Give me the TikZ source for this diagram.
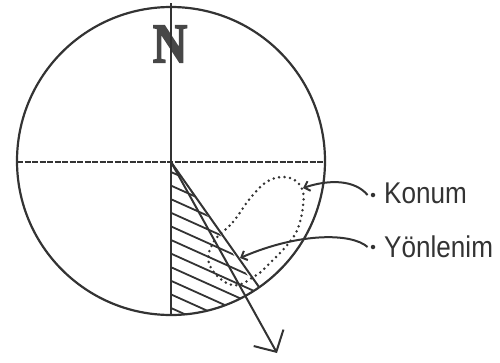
\documentclass[tikz,border=0pt]{standalone}
\usepackage{fontspec}
\setmainfont{Liberation Sans}
\newfontfamily\nfont[FakeBold=3]{Liberation Serif Bold}
\usetikzlibrary{arrows.meta}
\definecolor{ink}{HTML}{333333}
\tikzset{
  pen/.style={draw=ink, line width=2pt},
  lbl/.style={anchor=base west, inner sep=0pt, text=ink, font=\fontsize{30}{30}\selectfont},
  spot/.style={circle, fill=ink, inner sep=0pt, minimum size=4.5pt},
  pointer/.style={pen, -{Straight Barb[length=5pt,width=10pt]}}
}
\begin{document}
\begin{tikzpicture}[x=1pt, y=-1pt]
  \useasboundingbox (0,0) rectangle (500,362);
  \coordinate (o) at (171,162);
  \coordinate (hb) at (259,287);

  % north mark
  \node (north) at (170,44) {\scalebox{0.85}[1]{\nfont\fontsize{56}{56}\selectfont\color{ink!90}N}};

  % circle and cross
  \draw[pen, line width=2.2pt] (171,161) circle (154pt);
  \draw[pen] (171,3) -- (171,316);
  \draw[pen, dash pattern=on 6pt off 1.5pt] (17,162) -- (325,162);

  % hatched sector
  \begin{scope}
    \clip (o) -- (325,390) -- (171,390) -- cycle;
    \clip (171,161) circle (154pt);
    \foreach \k in {0,...,11}
      \draw[pen, line width=1.8pt] (171,172+13.6*\k) -- ++(160,72);
  \end{scope}
  \draw[pen] (o) -- (hb);

  % direction arrow
  \draw[pen, -{Straight Barb[length=16pt,width=34pt]}] (o) -- (277,353);

  % dotted loop
  \draw[ink, line width=2.8pt, line cap=round, dash pattern=on 0pt off 5.5pt]
    plot[smooth cycle, tension=0.7] coordinates {(213,243) (233,222) (252,196) (270,180) (290,178) (302,189)
      (303,206) (298,228) (288,244) (271,262) (255,276) (232,285) (210,266)};

  % labels
  \node[spot] (kdot) at (373,195) {};
  \node[spot] (ydot) at (373,247) {};
  \node[lbl] (konum) at (384,203) {\scalebox{0.87}[1]{Konum}};
  \node[lbl] (yon) at (384,257) {\scalebox{0.87}[1]{Yönlenim}};
  \coordinate (kpt) at (303,188);
  \coordinate (ypt) at (240,258);
  \draw[pointer] ([xshift=-3pt]kdot.west) .. controls (355,180) and (330,179) .. (kpt);
  \draw[pointer] ([xshift=-3pt]ydot.west) .. controls (352,233) and (300,232) .. (ypt);
\end{tikzpicture}
\end{document}
